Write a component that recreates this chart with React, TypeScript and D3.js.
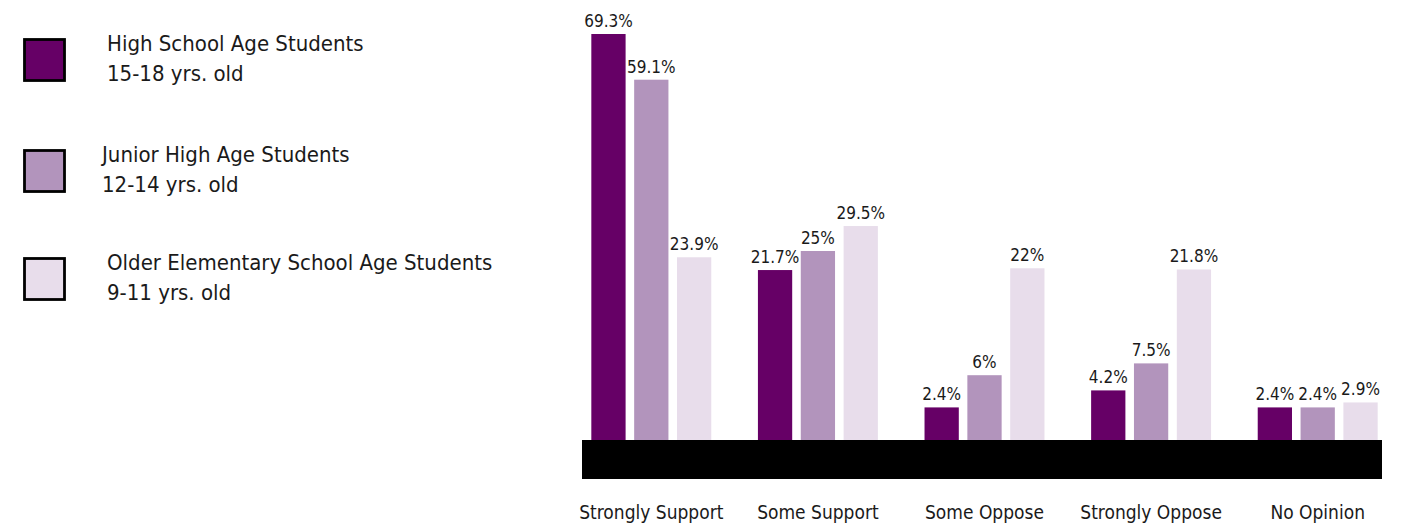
import React from "react";
import * as d3 from "d3";

const categories = ["Strongly Support", "Some Support", "Some Oppose", "Strongly Oppose", "No Opinion"];
const highSchool = [69.3, 21.7, 2.4, 4.2, 2.4];
const juniorHigh = [59.1, 25, 6, 7.5, 2.4];
const elementary = [23.9, 29.5, 22, 21.8, 2.9];
const seriesNames = ["High School Age Students", "Junior High Age Students", "Older Elementary School Age Students"];
const seriesAges = ["15-18 yrs. old", "12-14 yrs. old", "9-11 yrs. old"];
const seriesColors = ["#660066", "#b294bc", "#e8ddeb"];

const W = 1408;
const H = 523;
const FONT = "'DejaVu Sans Condensed', 'DejaVu Sans', sans-serif";

export default function App() {
  const series = [highSchool, juniorHigh, elementary];
  const maxV = d3.max(series.flat()) as number;

  const baseY = 440;
  const topY = 34;
  const y = d3.scalePow().exponent(0.75).domain([0, maxV]).range([baseY, topY]);

  const x = d3.scaleBand<string>().domain(categories).range([568, 1401]).paddingInner(0.28).paddingOuter(0.14);
  const xs = d3.scaleBand<number>().domain([0, 1, 2]).range([0, x.bandwidth()]).paddingInner(0.2);

  const legendY = [39, 150, 258];
  const legendTextX = [107, 102, 107];

  return (
    <svg width={W} height={H} style={{ position: "absolute", left: 0, top: 0, background: "#fff" }} fontFamily={FONT}>
      {/* legend */}
      {seriesNames.map((name, i) => (
        <g key={name}>
          <rect x={24.5} y={legendY[i] + 0.5} width={40} height={41} fill={seriesColors[i]} stroke="#000" strokeWidth={2.8} />
          <text x={legendTextX[i]} y={legendY[i] + 12} fontSize={22} fill="#1a1a1a">{name}</text>
          <text x={legendTextX[i]} y={legendY[i] + 42} fontSize={22} fill="#1a1a1a">{seriesAges[i]}</text>
        </g>
      ))}

      {/* bars */}
      {categories.map((c, ci) => (
        <g key={c} transform={`translate(${x(c)},0)`}>
          {series.map((s, si) => {
            const v = s[ci];
            const bx = xs(si) as number;
            const bw = xs.bandwidth();
            return (
              <g key={si}>
                <rect x={bx} y={y(v)} width={bw} height={baseY - y(v)} fill={seriesColors[si]} />
                <text x={bx + bw / 2} y={y(v) - 7} textAnchor="middle" fontSize={17} fill="#1a1a1a">{`${v}%`}</text>
              </g>
            );
          })}
          <text x={x.bandwidth() / 2} y={519} textAnchor="middle" fontSize={19} fill="#1a1a1a">{c}</text>
        </g>
      ))}

      {/* base band */}
      <rect x={582} y={baseY} width={800} height={39} fill="#000" />
    </svg>
  );
}
